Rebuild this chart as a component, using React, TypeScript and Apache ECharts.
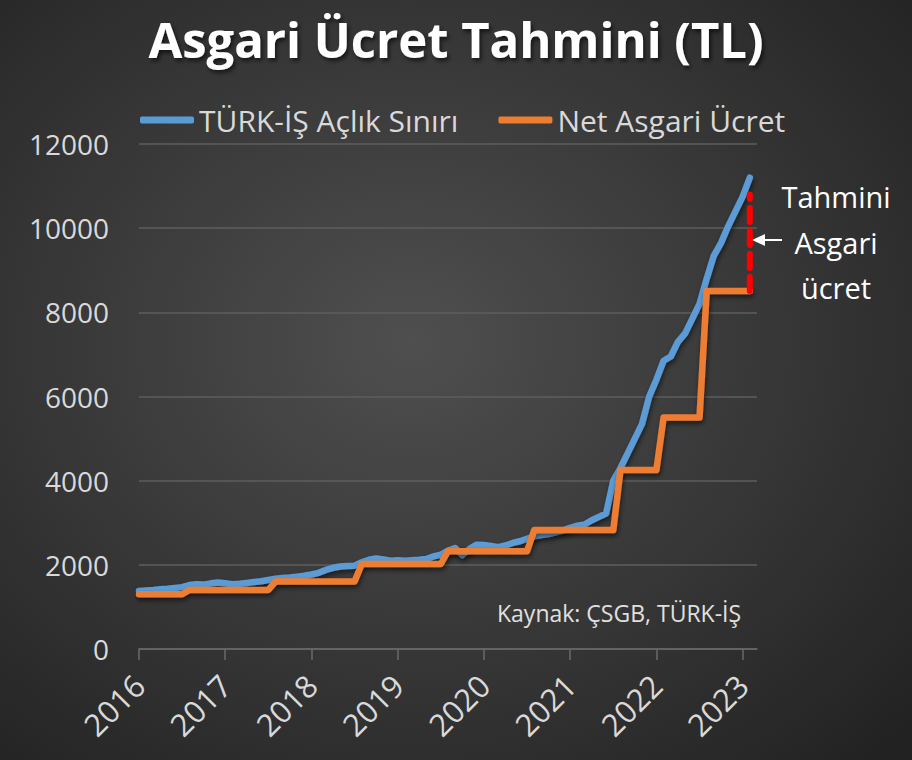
import React, { useEffect, useRef } from "react";
import * as echarts from "echarts";

const yearLabels = ["2016", "2017", "2018", "2019", "2020", "2021", "2022", "2023"];
const extraMonths = ["2023-02", "2023-03"];

const turkIsAclik = [
  1380, 1390, 1400, 1420, 1430, 1450, 1470, 1520, 1540, 1530, 1560, 1580,
  1560, 1540, 1550, 1570, 1590, 1610, 1640, 1670, 1690, 1700, 1720, 1740,
  1770, 1810, 1880, 1930, 1960, 1970, 1980, 2060, 2120, 2150, 2130, 2100,
  2110, 2100, 2110, 2120, 2140, 2200, 2240, 2340, 2400, 2230, 2380, 2480,
  2470, 2450, 2420, 2460, 2520, 2560, 2620, 2680, 2710, 2730, 2770, 2820,
  2880, 2930, 2960, 3060, 3140, 3220, 4000, 4300, 4650, 5000, 5350, 6000,
  6400, 6850, 6950, 7300, 7500, 7850, 8200, 8800, 9350, 9650, 10050, 10400,
  10750, 11200,
];

const netAsgari = [
  1300, 1300, 1300, 1300, 1300, 1300, 1300, 1404, 1404, 1404, 1404, 1404,
  1404, 1404, 1404, 1404, 1404, 1404, 1404, 1603, 1603, 1603, 1603, 1603,
  1603, 1603, 1603, 1603, 1603, 1603, 1603, 2020, 2020, 2020, 2020, 2020,
  2020, 2020, 2020, 2020, 2020, 2020, 2020, 2324, 2324, 2324, 2324, 2324,
  2324, 2324, 2324, 2324, 2324, 2324, 2324, 2826, 2826, 2826, 2826, 2826,
  2826, 2826, 2826, 2826, 2826, 2826, 2826, 4253, 4253, 4253, 4253, 4253,
  4253, 5500, 5500, 5500, 5500, 5500, 5500, 8506, 8506, 8506, 8506, 8506,
  8506, 8506,
];

const tahminiIndex = 85;
const tahminiFrom = 8506;
const tahminiTo = 10800;

const yTicks = { min: 0, max: 12000, interval: 2000 };

export default function App() {
  const ref = useRef<HTMLDivElement>(null);

  useEffect(() => {
    document.body.style.margin = "0";
    if (!ref.current) return;
    const chart = echarts.init(ref.current, null, { renderer: "svg" });

    const categories: string[] = [];
    yearLabels.forEach((y) => {
      for (let m = 1; m <= 12; m++) {
        if (y === "2023" && m > 1) break;
        categories.push(y + "-" + String(m).padStart(2, "0"));
      }
    });
    extraMonths.forEach((c) => categories.push(c));

    const font = "Open Sans";
    const lineShadow = {
      shadowColor: "rgba(0,0,0,0.55)",
      shadowBlur: 5,
      shadowOffsetX: 1,
      shadowOffsetY: 3,
    };

    chart.setOption({
      animation: false,
      backgroundColor: {
        type: "radial",
        x: 0.45,
        y: 0.45,
        r: 0.75,
        colorStops: [
          { offset: 0, color: "#4f4f4f" },
          { offset: 1, color: "#222222" },
        ],
      },
      title: {
        text: "Asgari Ücret Tahmini (TL)",
        left: "center",
        top: 9,
        textStyle: {
          color: "#ffffff",
          fontFamily: font,
          fontWeight: "bold",
          fontSize: 49,
          textShadowColor: "rgba(0,0,0,0.6)",
          textShadowBlur: 4,
          textShadowOffsetX: 2,
          textShadowOffsetY: 3,
        },
      },
      legend: {
        data: ["TÜRK-İŞ Açlık Sınırı", "Net Asgari Ücret"],
        left: 135,
        top: 100,
        icon: "roundRect",
        itemWidth: 54,
        itemHeight: 7,
        itemGap: 40,
        textStyle: { color: "#d9d9d9", fontFamily: font, fontSize: 30 },
      },
      grid: { left: 139, right: 155, top: 144, bottom: 111 },
      xAxis: {
        type: "category",
        data: categories,
        boundaryGap: false,
        axisLine: { lineStyle: { color: "#6a6a6a", width: 1.5 } },
        axisTick: { show: true, interval: 11, length: 11, lineStyle: { color: "#6a6a6a", width: 1.5 } },
        axisLabel: {
          interval: 11,
          rotate: 45,
          margin: 31,
          color: "#d9d9d9",
          fontFamily: font,
          fontSize: 31,
          formatter: (v: string) => v.slice(0, 4),
        },
        splitLine: { show: false },
      },
      yAxis: {
        type: "value",
        min: yTicks.min,
        max: yTicks.max,
        interval: yTicks.interval,
        axisLine: { show: false },
        axisTick: { show: false },
        axisLabel: {
          color: "#d9d9d9",
          fontFamily: font,
          fontSize: 28,
          margin: 30,
          formatter: (v: number) => String(v),
        },
        splitLine: { lineStyle: { color: "#5e5e5e", width: 1.5 } },
      },
      series: [
        {
          name: "TÜRK-İŞ Açlık Sınırı",
          type: "line",
          data: turkIsAclik,
          showSymbol: false,
          symbol: "none",
          color: "#5b9bd5",
          lineStyle: { width: 6.5, color: "#5b9bd5", cap: "round", join: "round", ...lineShadow },
          z: 2,
        },
        {
          name: "Net Asgari Ücret",
          type: "line",
          data: netAsgari,
          showSymbol: false,
          symbol: "none",
          color: "#ed7d31",
          lineStyle: { width: 6.5, color: "#ed7d31", cap: "round", join: "round", ...lineShadow },
          z: 3,
        },
        {
          name: "Tahmini Asgari Ücret",
          type: "line",
          data: [
            [tahminiIndex, tahminiFrom],
            [tahminiIndex, tahminiTo],
          ],
          showSymbol: false,
          symbol: "none",
          color: "#ff0000",
          lineStyle: { width: 6, color: "#ff0000", type: [14, 9], cap: "round" },
          z: 4,
        },
      ],
      graphic: [
        {
          type: "line",
          shape: { x1: 762, y1: 240, x2: 782, y2: 240 },
          style: { stroke: "#ffffff", lineWidth: 2 },
        },
        {
          type: "polygon",
          shape: { points: [[752, 240], [765, 234], [765, 246]] },
          style: { fill: "#ffffff" },
        },
        {
          type: "text",
          x: 836,
          y: 196,
          style: { text: "Tahmini", fill: "#ffffff", font: `29px "${font}"`, textAlign: "center", textVerticalAlign: "middle" },
        },
        {
          type: "text",
          x: 836,
          y: 242,
          style: { text: "Asgari", fill: "#ffffff", font: `29px "${font}"`, textAlign: "center", textVerticalAlign: "middle" },
        },
        {
          type: "text",
          x: 836,
          y: 287,
          style: { text: "ücret", fill: "#ffffff", font: `29px "${font}"`, textAlign: "center", textVerticalAlign: "middle" },
        },
        {
          type: "text",
          x: 497,
          y: 613,
          style: { text: "Kaynak: ÇSGB, TÜRK-İŞ", fill: "#e0e0e0", font: `23px "${font}"`, textAlign: "left", textVerticalAlign: "middle" },
        },
      ],
    });

    return () => chart.dispose();
  }, []);

  return <div ref={ref} style={{ width: 912, height: 760 }} />;
}
